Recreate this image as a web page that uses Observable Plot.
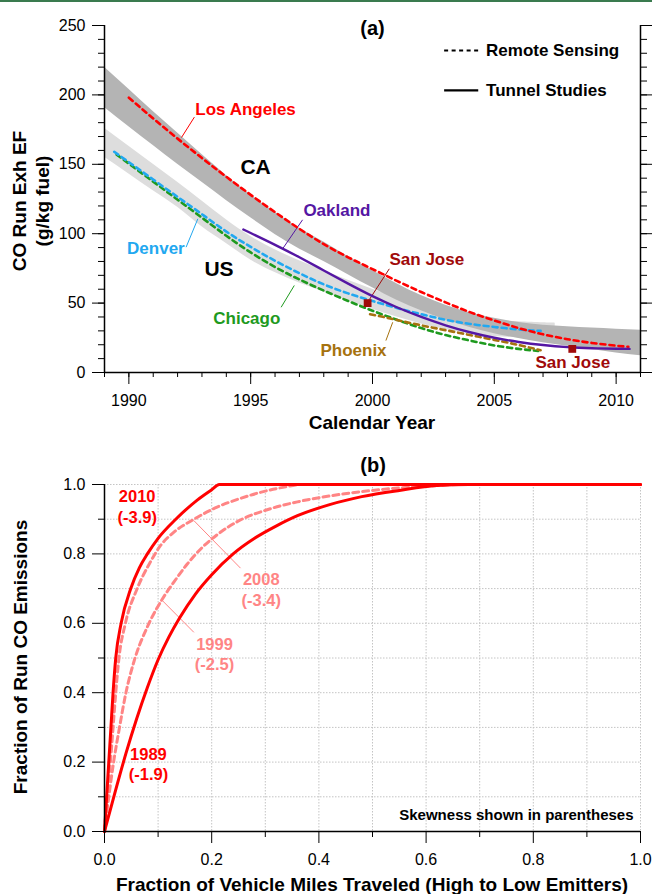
<!DOCTYPE html>
<html>
<head>
<meta charset="utf-8">
<script src="https://cdn.jsdelivr.net/npm/d3@7"></script>
<script src="https://cdn.jsdelivr.net/npm/@observablehq/plot@0.6"></script>
<style>
  body { margin: 0; background: #fff; }
  #wrap { position: relative; width: 652px; height: 894px; overflow: hidden; font-family: 'Liberation Sans', Arial, Helvetica, sans-serif; }
  .topline { position: absolute; left: 0; top: 0; width: 652px; height: 2px; background: #3a7b4f; z-index: 5; }
  .panel { position: absolute; left: 0; }
  .t { position: absolute; font-weight: bold; font-size: 19px; white-space: nowrap; color: #000; transform: translate(-50%, -50%); line-height: 23px; text-align: center; }
  .rot { transform: translate(-50%, -50%) rotate(-90deg); }
</style>
</head>
<body>
<div id="wrap">
  <div class="topline"></div>
  <div id="pa" class="panel" style="top:0"></div>
  <div id="pb" class="panel" style="top:440px"></div>
  <div class="t" style="left:372px;top:422px">Calendar Year</div>
  <div class="t rot" style="left:31px;top:201px">CO Run Exh EF<br>(g/kg fuel)</div>
  <div class="t" style="left:372px;top:884px">Fraction of Vehicle Miles Traveled (High to Low Emitters)</div>
  <div class="t rot" style="left:20px;top:657px">Fraction of Run CO Emissions</div>
</div>
<script>
// ---------------- Panel (a) data ----------------
const yearDomain = [1989, 2011];
const efDomain = [0, 250];
const yearMajorTicks = [1990, 1995, 2000, 2005, 2010];
const yearMinorTicks = d3.range(1989, 2012, 1);
const efMajorTicks = [0, 50, 100, 150, 200, 250];
const efMinorTicks = d3.range(0, 251, 10);

// California (dark) uncertainty band
const caYears = [1989,1990,1991,1992,1993,1994,1995,1996,1997,1998,1999,2000,2001,2002,2003,2004,2005,2006,2007,2008,2009,2010,2011];
const caUpper = [220,204,188,172.5,157,142,128,115.5,104,94,83.5,73.5,64,55.5,48.5,43,39,36,34,33,32,31.2,30.5];
const caLower = [191,177,163.5,150,137,124,111.5,99.5,89,80,70.5,61,52,44.5,38,32.5,28,24.5,21.5,19,16.5,14,12];

// US (light) uncertainty band
const usYears = [1989,1990,1991,1992,1993,1994,1995,1996,1997,1998,1999,2000,2001,2002,2003,2004,2005,2006,2007,2007.5];
const usUpper = [176,163,150,137,123.5,110,98,88.5,80.5,73.5,66.5,60,54,48.5,44,40.5,38,36.5,35.8,35.5];
const usLower = [155,143,131,119,105,93,81,72,64.5,58,51.5,45.5,40,35,31,28,26,25,24.5,24.5];

// Remote sensing (dashed)
const laYears = [1990,1991,1992,1993,1994,1995,1996,1997,1998,1999,2000,2001,2002,2003,2004,2005,2006,2007,2008,2009,2010,2010.5];
const laValues = [198,183,168.5,154.5,141,128,115.5,103.5,92.5,83,74.5,66,58,50.5,43.5,37.5,32,27.5,24,21.3,19.3,18.5];
const denverYears = [1989.4,1990,1991,1992,1993,1994,1995,1996,1997,1998,1999,2000,2001,2002,2003,2004,2005,2006,2006.9];
const denverValues = [159,151.5,139,126.5,114,101.5,90.5,80.5,71.5,63.5,57,51.5,46.5,42,38,35,32.8,31,30];
const chicagoYears = [1989.5,1990,1991,1992,1993,1994,1995,1996,1997,1998,1999,2000,2001,2002,2003,2004,2005,2006,2006.8];
const chicagoValues = [157,150.5,137.5,124.5,111.5,98.5,86.5,76,67,59,51.5,44.5,38,32,27,23,19.5,17,15.5];
const phoenixYears = [1999.9,2000.5,2001,2002,2003,2004,2005,2006,2006.9];
const phoenixValues = [42,39.8,37.8,34,30.5,27,23.5,19.8,16];

// Tunnel studies (solid)
const oaklandYears = [1994.7,1995,1996,1997,1998,1999,2000,2001,2002,2003,2004,2005,2006,2007,2008,2009,2010,2010.55];
const oaklandValues = [103,100.5,92,83,73.5,64,55,47,40,34,29,25,22,19.8,18.3,17.5,17.1,17];
const sanJoseYears = [1999.8, 2008.2];
const sanJoseValues = [50, 17];

// ---------------- Panel (b) data ----------------
const fracDomain = [0, 1];
const fracMajorTicks = [0, 0.2, 0.4, 0.6, 0.8, 1.0];
const fracMinorTicks = [0.1, 0.3, 0.5, 0.7, 0.9];
const gridTicks = [0.1,0.2,0.3,0.4,0.5,0.6,0.7,0.8,0.9,1.0];

const vmt2010 = [0,0.004,0.008,0.012,0.016,0.021,0.031,0.049,0.065,0.08,0.1,0.133,0.173,0.2,0.214,1.0];
const co2010  = [0,0.1,0.2,0.3,0.4,0.5,0.6,0.7,0.76,0.8,0.845,0.9,0.955,0.985,1.0,1.0];
const vmt2008 = [0,0.005,0.011,0.016,0.021,0.027,0.039,0.061,0.085,0.105,0.129,0.167,0.21,0.25,0.29,0.33,0.37,1.0];
const co2008  = [0,0.1,0.2,0.3,0.4,0.5,0.6,0.7,0.775,0.825,0.862,0.9,0.935,0.958,0.977,0.991,1.0,1.0];
const vmt1999 = [0,0.008,0.017,0.028,0.04,0.055,0.08,0.108,0.13,0.154,0.18,0.21,0.25,0.305,0.36,0.42,0.5,0.62,0.66,1.0];
const co1999  = [0,0.1,0.2,0.3,0.4,0.49,0.59,0.67,0.72,0.77,0.815,0.855,0.895,0.928,0.95,0.967,0.983,0.997,1.0,1.0];
const vmt1989 = [0,0.02,0.04,0.06,0.08,0.10,0.12,0.14,0.17,0.20,0.24,0.28,0.32,0.36,0.42,0.48,0.55,0.62,0.68,1.0];
const co1989  = [0,0.115,0.225,0.325,0.415,0.495,0.56,0.615,0.685,0.74,0.80,0.845,0.88,0.91,0.942,0.965,0.983,0.997,1.0,1.0];

// ---------------- layout (annotation placement, styles) ----------------
const FONT = "'Liberation Sans', Arial, Helvetica, sans-serif";
const C = {
  la: "#ff0000", denver: "#22a8f0", chicago: "#1e9a1e", oakland: "#5517a3",
  phoenix: "#a6720f", sanjose: "#a00a0a", caBand: "#b4b4b4", usBand: "#dddddd",
  dark: "#ff0000", light: "#ff8585", grid: "#c4c4c4"
};
const labelsA = [
  {text: "(a)", x: 2000.0, y: 247.5, color: "#000", size: 20},
  {text: "Los Angeles", x: 1994.79, y: 189.5, color: C.la, size: 17},
  {text: "CA", x: 1995.2, y: 147.7, color: "#000", size: 21},
  {text: "Oakland", x: 1998.54, y: 116.7, color: C.oakland, size: 17},
  {text: "Denver", x: 1991.11, y: 89.1, color: C.denver, size: 17},
  {text: "US", x: 1993.7, y: 74.7, color: "#000", size: 21},
  {text: "Chicago", x: 1994.84, y: 38.7, color: C.chicago, size: 17},
  {text: "San Jose", x: 2002.23, y: 81.2, color: C.sanjose, size: 17},
  {text: "San Jose", x: 2008.22, y: 7.0, color: C.sanjose, size: 17},
  {text: "Phoenix", x: 1999.22, y: 15.6, color: C.phoenix, size: 17}
];
const pointersA = [
  {x1: 1992.16, y1: 169.3, x2: 1992.69, y2: 184, color: C.la},
  {x1: 1996.31, y1: 89.1, x2: 1997.13, y2: 110, color: C.oakland},
  {x1: 1992.35, y1: 90.3, x2: 1992.83, y2: 110.7, color: C.denver},
  {x1: 1996.25, y1: 47, x2: 1996.79, y2: 62.7, color: C.chicago},
  {x1: 1999.8, y1: 50.6, x2: 2000.69, y2: 74.7, color: C.sanjose},
  {x1: 2000.55, y1: 23, x2: 2000.83, y2: 36.2, color: C.phoenix}
];
const legendA = [
  {label: "Remote Sensing", x1: 2002.94, x2: 2004.34, xt: 2004.66, y: 232, dash: "4,3.5"},
  {label: "Tunnel Studies", x1: 2002.94, x2: 2004.34, xt: 2004.66, y: 203.2, dash: null}
];
const labelsB = [
  {text: "(b)", x: 0.501, y: 1.06, color: "#000", size: 20},
  {text: "2010\n(-3.9)", x: 0.061, y: 0.938, color: C.dark, size: 16.5},
  {text: "2008\n(-3.4)", x: 0.2925, y: 0.700, color: C.light, size: 16.5},
  {text: "1999\n(-2.5)", x: 0.2052, y: 0.513, color: C.light, size: 16.5},
  {text: "1989\n(-1.9)", x: 0.082, y: 0.196, color: C.dark, size: 16.5}
];
const pointersB = [
  {x1: 0.1667, y1: 0.896, x2: 0.2537, y2: 0.759},
  {x1: 0.1076, y1: 0.666, x2: 0.1667, y2: 0.574}
];

const zipXY = (xs, ys) => xs.map((x, i) => ({x, y: ys[i]}));
const band = (xs, lo, hi) => xs.map((x, i) => ({x, lo: lo[i], hi: hi[i]}));

const baseStyle = {fontFamily: FONT, fontSize: "16px", color: "#000", background: "transparent", overflow: "visible"};

// ---------------- Panel (a) ----------------
const CURVE_A = "natural";
const dashedA = {strokeWidth: 2.6, strokeDasharray: "5,4", curve: CURVE_A};
const plotA = Plot.plot({
  width: 652, height: 440,
  marginLeft: 104, marginRight: 12, marginTop: 25, marginBottom: 68,
  style: baseStyle,
  x: {domain: yearDomain},
  y: {domain: efDomain},
  marks: [
    Plot.areaY(band(usYears, usLower, usUpper), {x: "x", y1: "lo", y2: "hi", fill: C.usBand, curve: CURVE_A}),
    Plot.areaY(band(caYears, caLower, caUpper), {x: "x", y1: "lo", y2: "hi", fill: C.caBand, curve: CURVE_A}),
    Plot.link(pointersA, {x1: "x1", y1: "y1", x2: "x2", y2: "y2", stroke: "color", strokeWidth: 1}),
    Plot.line(zipXY(chicagoYears, chicagoValues), {x: "x", y: "y", stroke: C.chicago, ...dashedA}),
    Plot.line(zipXY(phoenixYears, phoenixValues), {x: "x", y: "y", stroke: C.phoenix, ...dashedA}),
    Plot.line(zipXY(denverYears, denverValues), {x: "x", y: "y", stroke: C.denver, ...dashedA}),
    Plot.line(zipXY(laYears, laValues), {x: "x", y: "y", stroke: C.la, ...dashedA}),
    Plot.line(zipXY(oaklandYears, oaklandValues), {x: "x", y: "y", stroke: C.oakland, strokeWidth: 2.4, curve: CURVE_A}),
    Plot.dot(zipXY(sanJoseYears, sanJoseValues), {x: "x", y: "y", symbol: "square", r: 4.4, fill: C.sanjose}),
    Plot.text(labelsA, {x: "x", y: "y", text: "text", fill: "color", fontSize: "size", fontWeight: "bold"}),
    Plot.link(legendA.filter(d => d.dash), {x1: "x1", x2: "x2", y1: "y", y2: "y", stroke: "#000", strokeWidth: 2.2, strokeDasharray: "4,3.5"}),
    Plot.link(legendA.filter(d => !d.dash), {x1: "x1", x2: "x2", y1: "y", y2: "y", stroke: "#000", strokeWidth: 2.2}),
    Plot.text(legendA, {x: "xt", y: "y", text: "label", textAnchor: "start", fontSize: 17, fontWeight: "bold", fill: "#000"}),
    Plot.axisY({ticks: efMinorTicks, tickSize: 6, fill: "none", label: null}),
    Plot.axisY({ticks: efMajorTicks, tickSize: 12, tickPadding: 7, fontSize: 16, label: null, tickFormat: d => String(d)}),
    Plot.axisY({anchor: "right", ticks: efMinorTicks, tickSize: 6, fill: "none", label: null}),
    Plot.axisY({anchor: "right", ticks: efMajorTicks, tickSize: 12, fill: "none", label: null}),
    Plot.axisX({ticks: yearMinorTicks, tickSize: 5, fill: "none", label: null}),
    Plot.axisX({ticks: yearMajorTicks, tickSize: 12, tickPadding: 10, fontSize: 16, label: null, tickFormat: d => String(d)}),
    Plot.ruleX(yearDomain, {y1: efDomain[0], y2: efDomain[1], stroke: "#000", strokeWidth: 1.5}),
    Plot.ruleY([efDomain[0]], {x1: yearDomain[0], x2: yearDomain[1], stroke: "#000", strokeWidth: 1.5})
  ]
});
document.getElementById("pa").appendChild(plotA);

// ---------------- Panel (b) ----------------
const plotB = Plot.plot({
  width: 652, height: 454,
  marginLeft: 104, marginRight: 12, marginTop: 44, marginBottom: 63,
  style: baseStyle,
  x: {domain: fracDomain},
  y: {domain: fracDomain},
  marks: [
    Plot.gridX({ticks: gridTicks, stroke: C.grid, strokeOpacity: 1, strokeDasharray: "1.5,1.5", strokeWidth: 1}),
    Plot.gridY({ticks: gridTicks, stroke: C.grid, strokeOpacity: 1, strokeDasharray: "1.5,1.5", strokeWidth: 1}),
    Plot.link(pointersB, {x1: "x1", y1: "y1", x2: "x2", y2: "y2", stroke: C.light, strokeWidth: 1}),
    Plot.line(zipXY(vmt1999, co1999), {x: "x", y: "y", stroke: C.light, strokeWidth: 3, strokeDasharray: "6,4", curve: "monotone-x"}),
    Plot.line(zipXY(vmt2008, co2008), {x: "x", y: "y", stroke: C.light, strokeWidth: 3, strokeDasharray: "6,4", curve: "monotone-x"}),
    Plot.line(zipXY(vmt1989, co1989), {x: "x", y: "y", stroke: C.dark, strokeWidth: 3, curve: "monotone-x"}),
    Plot.line(zipXY(vmt2010, co2010), {x: "x", y: "y", stroke: C.dark, strokeWidth: 3, curve: "monotone-x"}),
    Plot.text(labelsB, {x: "x", y: "y", text: "text", fill: "color", fontSize: "size", fontWeight: "bold", lineHeight: 1.25}),
    Plot.text(["Skewness shown in parentheses"], {x: 0.987, y: 0.046, text: d => d, textAnchor: "end", fontSize: 15, fontWeight: "bold", fill: "#000"}),
    Plot.axisY({ticks: fracMinorTicks, tickSize: 6, fill: "none", label: null}),
    Plot.axisY({ticks: fracMajorTicks, tickSize: 12, tickPadding: 7, fontSize: 16, label: null, tickFormat: d3.format(".1f")}),
    Plot.axisX({ticks: fracMinorTicks, tickSize: 6, fill: "none", label: null}),
    Plot.axisX({ticks: fracMajorTicks, tickSize: 12, tickPadding: 10, fontSize: 16, label: null, tickFormat: d3.format(".1f")}),
    Plot.ruleX([fracDomain[0]], {y1: fracDomain[0], y2: fracDomain[1], stroke: "#000", strokeWidth: 1.5}),
    Plot.ruleY([fracDomain[0]], {x1: fracDomain[0], x2: fracDomain[1], stroke: "#000", strokeWidth: 1.5})
  ]
});
document.getElementById("pb").appendChild(plotB);
</script>
</body>
</html>
